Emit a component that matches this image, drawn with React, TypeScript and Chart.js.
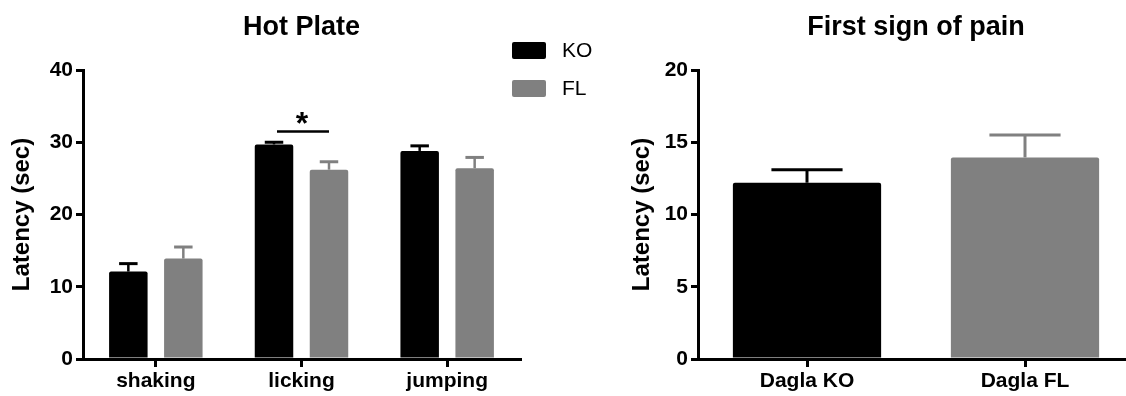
import React, { useEffect, useRef } from 'react';
import { Chart, registerables } from 'chart.js';

Chart.register(...registerables);

// ---------- data ----------
const hotPlateCategories = ['shaking', 'licking', 'jumping'];
const seriesNames = ['KO', 'FL'];
const koMeans = [12.1, 29.7, 28.8];
const koErrors = [1.1, 0.3, 0.7];
const flMeans = [13.9, 26.2, 26.4];
const flErrors = [1.6, 1.1, 1.5];
const hotPlateTicks = [0, 10, 20, 30, 40];
const significanceCategory = 1;
const significanceLevel = 31.5;
const significanceMark = '*';

const painCategories = ['Dagla KO', 'Dagla FL'];
const painMeans = [12.2, 13.95];
const painErrors = [0.9, 1.55];
const painTicks = [0, 5, 10, 15, 20];

const titleLeft = 'Hot Plate';
const titleRight = 'First sign of pain';
const yTitle = 'Latency (sec)';

// ---------- styles ----------
const FONT = "'Liberation Sans', Arial, Helvetica, sans-serif";
const BLACK = '#000000';
const GRAY = '#808080';

function makeErrorBarPlugin(errors: number[][], lineWidth: number) {
  return {
    id: 'errorBars',
    afterDatasetsDraw(chart: any) {
      const { ctx } = chart;
      const yScale = chart.scales.y;
      chart.data.datasets.forEach((ds: any, di: number) => {
        const meta = chart.getDatasetMeta(di);
        meta.data.forEach((bar: any, i: number) => {
          const v = ds.data[i];
          const e = errors[di][i];
          const base = yScale.getPixelForValue(v);
          const top = yScale.getPixelForValue(v + e);
          const color = Array.isArray(ds.backgroundColor) ? ds.backgroundColor[i] : ds.backgroundColor;
          const half = bar.width * 0.24;
          ctx.save();
          ctx.strokeStyle = color;
          ctx.lineWidth = lineWidth;
          ctx.lineCap = 'butt';
          ctx.beginPath();
          ctx.moveTo(bar.x, base);
          ctx.lineTo(bar.x, top);
          ctx.stroke();
          ctx.lineWidth = 3;
          ctx.beginPath();
          ctx.moveTo(bar.x - half, top);
          ctx.lineTo(bar.x + half, top);
          ctx.stroke();
          ctx.restore();
        });
      });
    },
  };
}

const legendPlugin = {
  id: 'customLegend',
  afterDraw(chart: any) {
    const { ctx } = chart;
    const boxX = 512;
    const boxW = 34;
    const boxH = 17;
    const rows = [42, 80];
    chart.data.datasets.forEach((ds: any, i: number) => {
      const y = rows[i];
      ctx.save();
      ctx.fillStyle = ds.backgroundColor;
      ctx.beginPath();
      if (ctx.roundRect) ctx.roundRect(boxX, y, boxW, boxH, 2);
      else ctx.rect(boxX, y, boxW, boxH);
      ctx.fill();
      ctx.fillStyle = BLACK;
      ctx.font = `21px ${FONT}`;
      ctx.textAlign = 'left';
      ctx.textBaseline = 'middle';
      ctx.fillText(ds.label, 562, y + boxH / 2 + 1);
      ctx.restore();
    });
  },
};

const significancePlugin = {
  id: 'significance',
  afterDatasetsDraw(chart: any) {
    const { ctx } = chart;
    const yScale = chart.scales.y;
    const a = chart.getDatasetMeta(0).data[significanceCategory];
    const b = chart.getDatasetMeta(1).data[significanceCategory];
    if (!a || !b) return;
    const y = yScale.getPixelForValue(significanceLevel);
    const x1 = a.x + 3;
    const x2 = b.x;
    ctx.save();
    ctx.strokeStyle = BLACK;
    ctx.lineWidth = 2.5;
    ctx.beginPath();
    ctx.moveTo(x1, y);
    ctx.lineTo(x2, y);
    ctx.stroke();
    ctx.fillStyle = BLACK;
    ctx.font = `bold 32px ${FONT}`;
    ctx.textAlign = 'center';
    ctx.textBaseline = 'alphabetic';
    ctx.fillText(significanceMark, (x1 + x2) / 2 - 1, y + 3);
    ctx.restore();
  },
};

function axisOptions(ticks: number[], yWidth: number) {
  return {
    x: {
      offset: true,
      afterFit: (s: any) => {
        s.height = 37;
      },
      ticks: {
        font: { family: FONT, size: 21, weight: 'bold' },
        color: BLACK,
        padding: 2,
        maxRotation: 0,
        autoSkip: false,
      },
      grid: {
        offset: false,
        drawOnChartArea: false,
        drawTicks: true,
        tickLength: 8,
        lineWidth: 3,
        color: BLACK,
      },
      border: { display: true, width: 3, color: BLACK },
    },
    y: {
      min: ticks[0],
      max: ticks[ticks.length - 1],
      afterBuildTicks: (s: any) => {
        s.ticks = ticks.map((v) => ({ value: v }));
      },
      afterFit: (s: any) => {
        s.width = yWidth;
      },
      ticks: {
        font: { family: FONT, size: 21, weight: 'bold' },
        color: BLACK,
        padding: 3,
      },
      grid: {
        drawOnChartArea: false,
        drawTicks: true,
        tickLength: 7,
        lineWidth: 3,
        color: BLACK,
      },
      border: { display: true, width: 3, color: BLACK },
      title: {
        display: true,
        text: yTitle,
        font: { family: FONT, size: 24, weight: 'bold', lineHeight: 1.2 },
        color: BLACK,
        padding: { top: 8, bottom: 0 },
      },
    },
  };
}

function titleOptions(text: string) {
  return {
    display: true,
    text,
    fullSize: false,
    color: BLACK,
    font: { family: FONT, size: 27, weight: 'bold', lineHeight: 1.2 },
    padding: { top: 11, bottom: 26.6 },
  };
}

function HotPlateChart() {
  const ref = useRef<HTMLCanvasElement | null>(null);
  useEffect(() => {
    if (!ref.current) return;
    const chart = new Chart(ref.current, {
      type: 'bar',
      data: {
        labels: hotPlateCategories,
        datasets: [
          {
            label: seriesNames[0],
            data: koMeans,
            backgroundColor: BLACK,
            categoryPercentage: 0.755,
            barPercentage: 0.7,
            borderRadius: 2,
          },
          {
            label: seriesNames[1],
            data: flMeans,
            backgroundColor: GRAY,
            categoryPercentage: 0.755,
            barPercentage: 0.7,
            borderRadius: 2,
          },
        ],
      },
      options: {
        responsive: false,
        animation: false,
        layout: { padding: { left: 0, right: 100, top: 0, bottom: 0 } },
        plugins: {
          legend: { display: false },
          tooltip: { enabled: false },
          title: titleOptions(titleLeft),
        },
        scales: axisOptions(hotPlateTicks, 83) as any,
      },
      plugins: [makeErrorBarPlugin([koErrors, flErrors], 2.5), significancePlugin, legendPlugin],
    } as any);
    return () => chart.destroy();
  }, []);
  return (
    <canvas
      ref={ref}
      width={620}
      height={396}
      style={{ position: 'absolute', left: 0, top: 0, width: 620, height: 396 }}
    />
  );
}

function PainChart() {
  const ref = useRef<HTMLCanvasElement | null>(null);
  useEffect(() => {
    if (!ref.current) return;
    const chart = new Chart(ref.current, {
      type: 'bar',
      data: {
        labels: painCategories,
        datasets: [
          {
            label: 'Latency',
            data: painMeans,
            backgroundColor: [BLACK, GRAY],
            categoryPercentage: 1,
            barPercentage: 0.68,
            borderRadius: 2,
          },
        ],
      },
      options: {
        responsive: false,
        animation: false,
        layout: { padding: { left: 0, right: 16, top: 0, bottom: 0 } },
        plugins: {
          legend: { display: false },
          tooltip: { enabled: false },
          title: titleOptions(titleRight),
        },
        scales: axisOptions(painTicks, 78) as any,
      },
      plugins: [makeErrorBarPlugin([painErrors], 3)],
    } as any);
    return () => chart.destroy();
  }, []);
  return (
    <canvas
      ref={ref}
      width={530}
      height={396}
      style={{ position: 'absolute', left: 620, top: 0, width: 530, height: 396 }}
    />
  );
}

export default function App() {
  return (
    <div
      style={{
        position: 'absolute',
        left: 0,
        top: 0,
        width: 1126,
        height: 396,
        overflow: 'hidden',
        background: '#ffffff',
      }}
    >
      <HotPlateChart />
      <PainChart />
    </div>
  );
}
